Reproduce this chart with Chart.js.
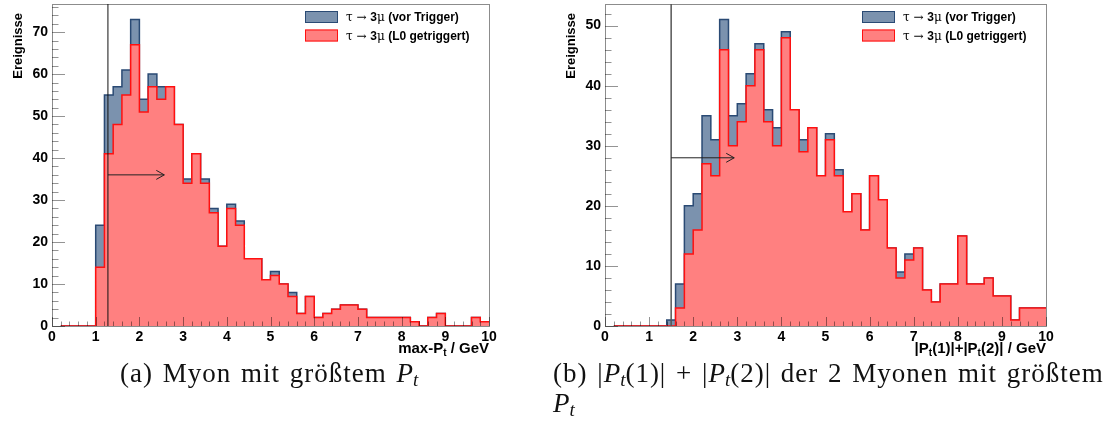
<!DOCTYPE html>
<html>
<head>
<meta charset="utf-8">
<script src="https://cdn.jsdelivr.net/npm/chart.js@4.4.1/dist/chart.umd.min.js"></script>
<style>
  body { margin: 0; background: #fff; width: 1105px; height: 421px; overflow: hidden; position: relative; }
  canvas { position: absolute; top: 0; }
  #chartA { left: 0; }
  #chartB { left: 553px; }
  .cap { position: absolute; font-family: "Liberation Serif", serif; font-size: 27px; line-height: 27px;
         color: #111; white-space: nowrap; letter-spacing: 1px; word-spacing: 2px; }
  .cap i { letter-spacing: 0; }
  .sub { font-size: 0.7em; position: relative; top: 0.2em; }
</style>
</head>
<body>
<canvas id="chartA" width="505" height="365"></canvas>
<canvas id="chartB" width="552" height="365"></canvas>
<div class="cap" style="left:120px; top:360px">(a) Myon mit größtem <i>P<span class="sub">t</span></i></div>
<div class="cap" style="left:553px; top:360px">(b) |<i>P<span class="sub">t</span></i>(1)| + |<i>P<span class="sub">t</span></i>(2)| der 2 Myonen mit größtem</div>
<div class="cap" style="left:553px; top:390px"><i>P<span class="sub">t</span></i></div>

<script>
// bins of width 0.2, first drawn bin starts at 0.2 (up to 10)
const BIN_START = 0.2;
const BIN_WIDTH = 0.2;

const LABEL_BEFORE = "τ → 3μ (vor Trigger)";
const LABEL_L0 = "τ → 3μ (L0 getriggert)";

// (a) max-Pt of the muons
const maxPtBefore = [0, 0, 0, 0, 24, 55, 57, 61, 73, 54, 60, 57, 57, 48, 35, 41, 35, 28, 19, 29,
  25, 16, 16, 11, 13, 10, 8, 3, 7, 2, 3, 4, 5, 5, 4, 2, 2, 2, 2, 2, 1, 0, 2, 3, 0, 0, 0, 2, 1];
const maxPtL0 = [0, 0, 0, 0, 14, 41, 48, 55, 67, 51, 57, 54, 57, 48, 34, 41, 34, 27, 19, 28,
  24, 16, 16, 11, 12, 10, 7, 3, 7, 2, 3, 4, 5, 5, 4, 2, 2, 2, 2, 2, 1, 0, 2, 3, 0, 0, 0, 2, 1];

// (b) |Pt(1)|+|Pt(2)| of the two hardest muons
const sumPtBefore = [0, 0, 0, 0, 0, 0, 1, 7, 20, 22, 35, 31, 51, 35, 37, 42, 47, 36, 33, 49,
  36, 31, 33, 25, 32, 26, 19, 22, 16, 25, 21, 13, 9, 12, 13, 6, 4, 7, 7, 15, 7, 7, 8, 5, 5, 1, 3, 3, 3];
const sumPtL0 = [0, 0, 0, 0, 0, 0, 0, 3, 12, 16, 27, 25, 46, 30, 34, 40, 46, 34, 30, 48,
  36, 29, 33, 25, 31, 25, 19, 22, 16, 25, 21, 13, 8, 11, 13, 6, 4, 7, 7, 15, 7, 7, 8, 5, 5, 1, 3, 3, 3];

// cut positions and arrows
const cutA = 1.28, arrowA = [36, 2.57];
const cutB = 1.5, arrowB = [28, 2.93];

const yMaxA = 76.7;
const yMaxB = 53.6;

const SANS = '"Liberation Sans", Arial, sans-serif';
const SERIF = '"DejaVu Serif", serif';

function steps(vals) {
  const pts = vals.map((v, i) => ({ x: BIN_START + i * BIN_WIDTH, y: v }));
  pts.push({ x: BIN_START + vals.length * BIN_WIDTH, y: vals[vals.length - 1] });
  return pts;
}

// draw a run of text pieces [text, font, dy]
function pieces(ctx, parts, x, y) {
  let cx = x;
  parts.forEach(([t, f, dy]) => {
    ctx.font = f;
    ctx.fillText(t, cx, y + (dy || 0));
    cx += ctx.measureText(t).width;
  });
  return cx - x;
}
function piecesWidth(ctx, parts) {
  let w = 0;
  parts.forEach(([t, f]) => { ctx.font = f; w += ctx.measureText(t).width; });
  return w;
}

function legendParts(label) {
  const rest = label.split("3μ")[1];
  return [["τ → ", "12px " + SERIF], ["3", "bold 12px " + SANS], ["μ", "12px " + SERIF], [rest, "bold 12px " + SANS]];
}

const rootPlugin = {
  id: "rootStyle",
  beforeDatasetsDraw(chart) {
    const ctx = chart.ctx;
    const { left, right, top, bottom } = chart.chartArea;
    ctx.save();
    ctx.strokeStyle = "rgba(0,0,0,0.45)";
    ctx.lineWidth = 1;
    ctx.strokeRect(Math.round(left) + 0.5, Math.round(top) + 0.5, Math.round(right - left), Math.round(bottom - top));
    ctx.restore();
  },
  afterDatasetsDraw(chart, args, o) {
    const ctx = chart.ctx;
    const { left, right, top, bottom } = chart.chartArea;
    const xs = chart.scales.x, ys = chart.scales.y;
    ctx.save();

    // cut line + arrow
    const cx = xs.getPixelForValue(o.cut);
    ctx.strokeStyle = o.cutColor;
    ctx.lineWidth = o.cutWidth;
    ctx.beginPath();
    ctx.moveTo(cx, top);
    ctx.lineTo(cx, bottom);
    ctx.stroke();
    const ay = ys.getPixelForValue(o.arrow[0]);
    const ax = xs.getPixelForValue(o.arrow[1]);
    ctx.strokeStyle = "#222";
    ctx.lineWidth = 1;
    ctx.beginPath();
    ctx.moveTo(cx, ay);
    ctx.lineTo(ax, ay);
    ctx.moveTo(ax - 8, ay - 4.5);
    ctx.lineTo(ax, ay);
    ctx.lineTo(ax - 8, ay + 4.5);
    ctx.stroke();

    // inward ticks
    ctx.strokeStyle = "rgba(0,0,0,0.42)";
    ctx.lineWidth = 1;
    ctx.beginPath();
    for (let i = 0; i <= 50; i++) {
      const px = Math.round(xs.getPixelForValue(i * 0.2)) + 0.5;
      const len = i % 5 === 0 ? 9 : 4.5;
      ctx.moveTo(px, bottom);
      ctx.lineTo(px, bottom - len);
    }
    for (let v = 0; v <= ys.max; v += 2) {
      const py = Math.round(ys.getPixelForValue(v)) + 0.5;
      const len = v % 10 === 0 ? 13 : 6.5;
      ctx.moveTo(left, py);
      ctx.lineTo(left + len, py);
    }
    ctx.stroke();

    // legend
    const lx = right - 184;
    chart.data.datasets.forEach((ds, i) => {
      const by = top + 7 + i * 18.5;
      ctx.fillStyle = ds.backgroundColor;
      ctx.fillRect(lx, by, 33, 12);
      ctx.strokeStyle = ds.borderColor;
      ctx.lineWidth = 1;
      ctx.strokeRect(lx + 0.5, by + 0.5, 32, 11);
      ctx.fillStyle = "#000";
      ctx.textBaseline = "alphabetic";
      pieces(ctx, legendParts(ds.label), lx + 41, by + 10);
    });

    // x title, right aligned
    ctx.fillStyle = "#000";
    const w = piecesWidth(ctx, o.xTitle);
    pieces(ctx, o.xTitle, right - w, 353);

    // y title, top aligned
    ctx.translate(22, top + 9);
    ctx.rotate(-Math.PI / 2);
    ctx.font = "bold 13px " + SANS;
    ctx.textAlign = "right";
    ctx.fillText("Ereignisse", 0, 0);
    ctx.restore();
  }
};

function makeChart(id, before, l0, yMax, padRight, opts) {
  return new Chart(document.getElementById(id), {
    type: "line",
    data: {
      datasets: [
        { label: LABEL_BEFORE, data: steps(before), stepped: true, fill: "origin",
          borderColor: "#2a4a74", backgroundColor: "#7b92ae", borderWidth: 1.5, pointRadius: 0, order: 2 },
        { label: LABEL_L0, data: steps(l0), stepped: true, fill: "origin",
          borderColor: "#ff1010", backgroundColor: "#ff8080", borderWidth: 1.5, pointRadius: 0, order: 1 }
      ]
    },
    options: {
      responsive: false,
      animation: false,
      layout: { padding: { top: 4, right: padRight, left: 0, bottom: 0 } },
      plugins: { legend: { display: false }, tooltip: { enabled: false }, rootStyle: opts },
      scales: {
        x: {
          type: "linear", min: 0, max: 10,
          grid: { display: false, drawTicks: false }, border: { display: false },
          ticks: { stepSize: 1, color: "#000", padding: 3, maxRotation: 0, autoSkip: false,
                   font: { family: SANS, size: 14, weight: "bold" } },
          afterFit: s => { s.height = 39; s.paddingLeft = 0; s.paddingRight = 0; }
        },
        y: {
          min: 0, max: yMax,
          grid: { display: false, drawTicks: false }, border: { display: false },
          ticks: { stepSize: 10, includeBounds: false, color: "#000", padding: 4,
                   font: { family: SANS, size: 14, weight: "bold" } },
          afterFit: s => { s.width = 52; s.paddingTop = 0; s.paddingBottom = 0; }
        }
      }
    },
    plugins: [rootPlugin]
  });
}

const B15 = "bold 15px " + SANS, B10 = "bold 10px " + SANS;

makeChart("chartA", maxPtBefore, maxPtL0, yMaxA, 16, {
  cut: cutA, arrow: arrowA, cutColor: "#111", cutWidth: 1,
  xTitle: [["max-P", B15], ["t", B10, 3], [" / GeV", B15]]
});
makeChart("chartB", sumPtBefore, sumPtL0, yMaxB, 59, {
  cut: cutB, arrow: arrowB, cutColor: "#555", cutWidth: 1.5,
  xTitle: [["|P", B15], ["t", B10, 3], ["(1)|+|P", B15], ["t", B10, 3], ["(2)| / GeV", B15]]
});
</script>
</body>
</html>
